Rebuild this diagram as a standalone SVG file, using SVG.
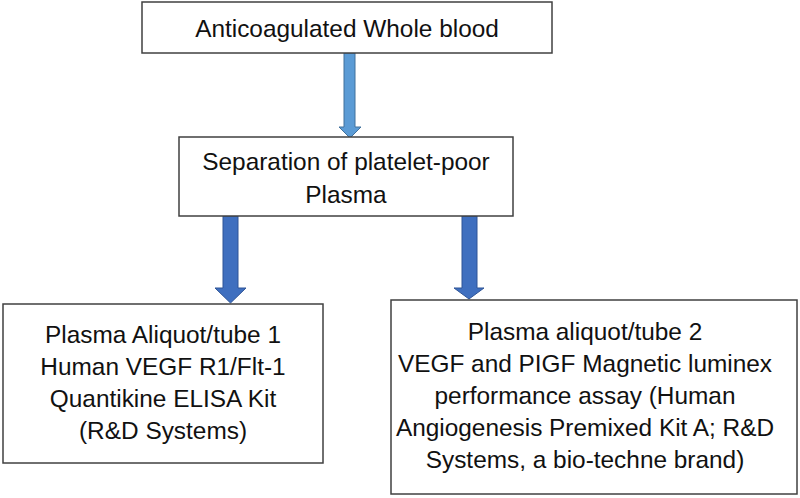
<svg xmlns="http://www.w3.org/2000/svg" width="800" height="498" viewBox="0 0 800 498">
<style>
.box{fill:#fff;stroke:#404040;stroke-width:1.5}
.t{font-family:"Liberation Sans",Arial,sans-serif;font-size:24.4px;fill:#111;text-anchor:middle}
.a1{fill:#5b9bd5;stroke:#41719c;stroke-width:1}
.a2{fill:#3f6fbf;stroke:#2f5597;stroke-width:1}
</style>
<rect width="800" height="498" fill="#fff"/>
<g id="connectors">
<path class="a1" d="M344,53 L355,53 L355,127 L361,127 L350,138 L339,127 L344,127 Z"/>
<path class="a2" d="M223,216 L238,216 L238,288 L246,288 L230.5,303 L215,288 L223,288 Z"/>
<path class="a2" d="M462,216 L477,216 L477,288 L484,288 L469,299 L454,288 L462,288 Z"/>
</g>
<g id="node-blood">
<rect class="box" x="142" y="2" width="410" height="51"/>
<text class="t" x="347" y="37">Anticoagulated Whole blood</text>
</g>
<g id="node-separation">
<rect class="box" x="179" y="137" width="334" height="79"/>
<text class="t" x="346" y="170">Separation of platelet-poor</text>
<text class="t" x="346" y="203">Plasma</text>
</g>
<g id="node-tube1">
<rect class="box" x="3" y="304" width="320" height="159"/>
<text class="t" x="163" y="343">Plasma Aliquot/tube 1</text>
<text class="t" x="163" y="375">Human VEGF R1/Flt-1</text>
<text class="t" x="163" y="407">Quantikine ELISA Kit</text>
<text class="t" x="163" y="439">(R&amp;D Systems)</text>
</g>
<g id="node-tube2">
<rect class="box" x="391" y="300" width="406" height="194"/>
<text class="t" x="585" y="340">Plasma aliquot/tube 2</text>
<text class="t" x="585" y="372">VEGF and PIGF Magnetic luminex</text>
<text class="t" x="585" y="404">performance assay (Human</text>
<text class="t" x="585" y="436">Angiogenesis Premixed Kit A; R&amp;D</text>
<text class="t" x="585" y="468">Systems, a bio-techne brand)</text>
</g>
</svg>
